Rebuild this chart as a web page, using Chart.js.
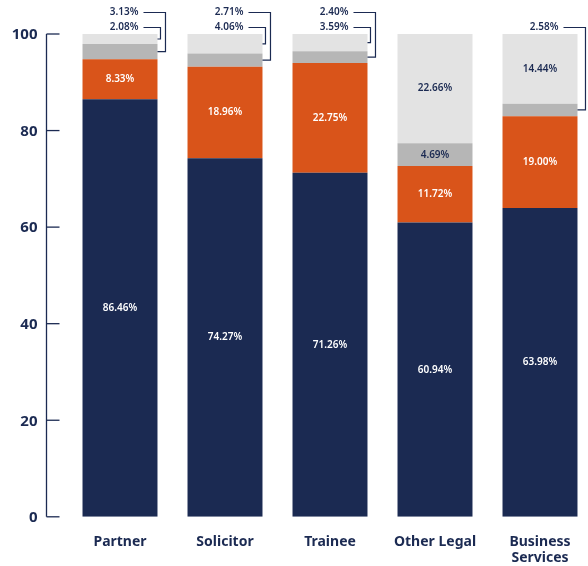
<!DOCTYPE html>
<html>
<head>
<meta charset="utf-8">
<script src="https://cdn.jsdelivr.net/npm/chart.js@4"></script>
<style>
  html, body { margin: 0; padding: 0; background: #fff; overflow: hidden; }
  canvas { display: block; }
</style>
</head>
<body>
<canvas id="chart1" width="600" height="584" style="width:600px;height:584px"></canvas>
<script>
const categories = ["Partner", "Solicitor", "Trainee", "Other Legal", ["Business", "Services"]];
const navyValues = [86.46, 74.27, 71.26, 60.94, 63.98];
const orangeValues = [8.33, 18.96, 22.75, 11.72, 19.0];
const greyValues = [3.13, 2.71, 2.4, 4.69, 2.58];
const lightGreyValues = [2.08, 4.06, 3.59, 22.66, 14.44];
const yTicks = [0, 20, 40, 60, 80, 100];

const NAVY = "#1b2a52";
const FONT = "'Noto Sans', 'Open Sans', sans-serif";

const makeSet = (data, color, textColor) => ({
    data,
    backgroundColor: color,
    textColor,
    barPercentage: 0.714,
    categoryPercentage: 1,
});

// small grey segments get their labels put above the bar with a bracket
const isCallout = (d, i) => {
    if (d < 2) return false;
    const g = greyValues[i];
    const lg = lightGreyValues[i];
    const v = d === 2 ? g : lg;
    return v < 3 || g + lg < 7;
};

const labelPlugin = {
    id: "segLabels",
    afterDatasetsDraw(chart) {
        const ctx = chart.ctx;
        ctx.save();
        ctx.font = `600 10px ${FONT}`;
        ctx.textBaseline = "middle";
        chart.data.datasets.forEach((ds, d) => {
            chart.getDatasetMeta(d).data.forEach((bar, i) => {
                if (isCallout(d, i)) return;
                ctx.fillStyle = ds.textColor;
                ctx.textAlign = "center";
                ctx.fillText(ds.data[i].toFixed(2) + "%", bar.x, (bar.y + bar.base) / 2);
            });
        });

        // callouts
        const rows = [12.5, 27.5];
        categories.forEach((c, i) => {
            const outs = [2, 3].filter((d) => isCallout(d, i));
            outs.forEach((d, k) => {
                const bar = chart.getDatasetMeta(d).data[i];
                const right = bar.x + bar.width / 2;
                const mid = (bar.y + bar.base) / 2;
                const row = outs.length === 1 ? 1 : k;
                const ly = rows[row];
                const reach = outs.length === 2 && k === 1 ? 3 : 8;
                ctx.fillStyle = NAVY;
                ctx.textAlign = "right";
                ctx.fillText(chart.data.datasets[d].data[i].toFixed(2) + "%", right - 19, ly);
                ctx.strokeStyle = NAVY;
                ctx.lineWidth = 1.2;
                ctx.beginPath();
                ctx.moveTo(right - 14, ly);
                ctx.lineTo(right + reach, ly);
                ctx.lineTo(right + reach, mid);
                ctx.lineTo(right, mid);
                ctx.stroke();
            });
        });
        ctx.restore();
    },
};

const axisPlugin = {
    id: "leftAxis",
    afterDraw(chart) {
        const ctx = chart.ctx;
        const y = chart.scales.y;
        const ax = chart.chartArea.left - 21;
        ctx.save();
        ctx.strokeStyle = NAVY;
        ctx.lineWidth = 1.3;
        ctx.beginPath();
        ctx.moveTo(ax, y.getPixelForValue(100));
        ctx.lineTo(ax, y.getPixelForValue(0));
        ctx.stroke();
        ctx.font = `bold 15px ${FONT}`;
        ctx.fillStyle = NAVY;
        ctx.textAlign = "right";
        ctx.textBaseline = "middle";
        yTicks.forEach((t) => {
            const py = y.getPixelForValue(t);
            ctx.beginPath();
            ctx.moveTo(ax, py);
            ctx.lineTo(ax + 13, py);
            ctx.stroke();
            ctx.fillText(String(t), ax - 9, py + 1);
        });
        ctx.restore();
    },
};

new Chart(document.getElementById("chart1"), {
    type: "bar",
    data: {
        labels: categories,
        datasets: [
            makeSet(navyValues, NAVY, "#ffffff"),
            makeSet(orangeValues, "#d9541a", "#ffffff"),
            makeSet(greyValues, "#b6b6b6", NAVY),
            makeSet(lightGreyValues, "#e3e3e3", NAVY),
        ],
    },
    options: {
        responsive: false,
        animation: false,
        layout: { padding: { left: 67.5, right: 7.5, top: 34, bottom: 1 } },
        plugins: {
            legend: { display: false },
            tooltip: { enabled: false },
        },
        scales: {
            x: {
                stacked: true,
                grid: { display: false, drawTicks: false },
                border: { display: false },
                ticks: {
                    color: NAVY,
                    padding: 17,
                    font: { family: FONT, size: 14, weight: "bold", lineHeight: 1.15 },
                },
            },
            y: {
                stacked: true,
                display: false,
                min: 0,
                max: 100,
            },
        },
    },
    plugins: [labelPlugin, axisPlugin],
});
</script>
</body>
</html>
